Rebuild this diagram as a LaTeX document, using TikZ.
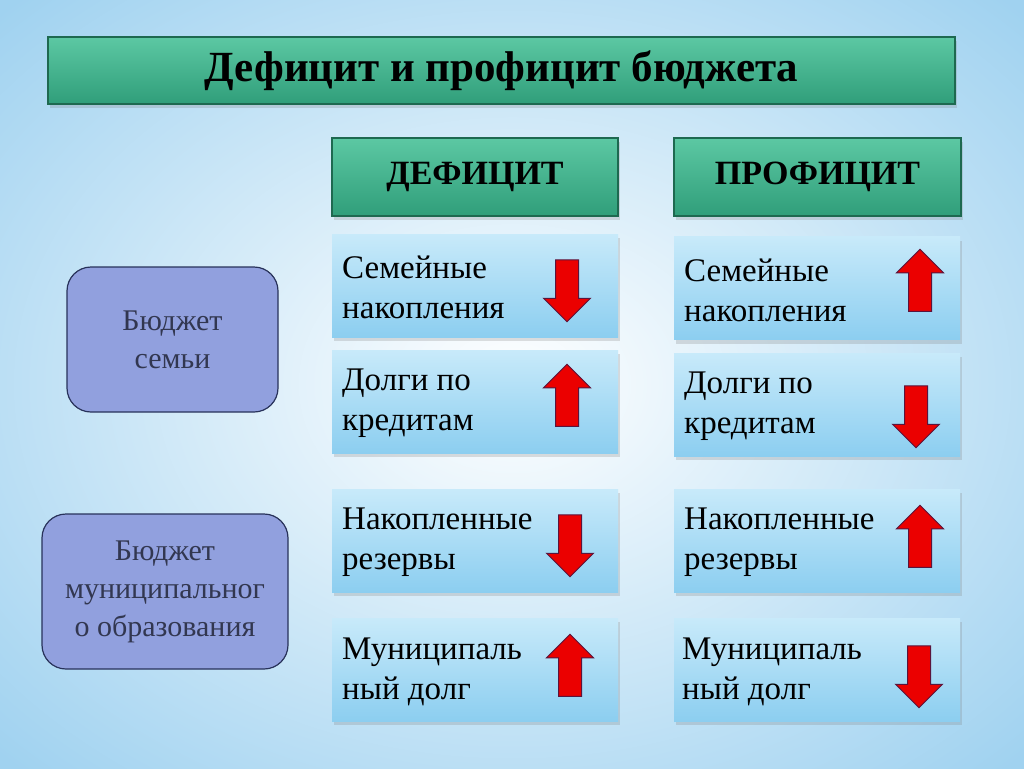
\documentclass[tikz,border=0pt]{standalone}
\usepackage{fontspec}
\setmainfont{Liberation Serif}
\usetikzlibrary{positioning,shapes.arrows,shadows}

\definecolor{bgedge}{RGB}{160,210,240}
\definecolor{greentop}{RGB}{92,200,163}
\definecolor{greenbot}{RGB}{48,158,122}
\definecolor{greenline}{RGB}{30,105,80}
\definecolor{celltop}{RGB}{200,234,250}
\definecolor{cellbot}{RGB}{140,206,240}
\definecolor{budgetfill}{RGB}{145,160,222}
\definecolor{budgetline}{RGB}{40,50,90}
\definecolor{budgettext}{RGB}{50,55,80}
\definecolor{arrowred}{RGB}{235,0,0}
\definecolor{arrowline}{RGB}{90,20,60}

\begin{document}
\begin{tikzpicture}[
  x=1pt,
  y=-1pt,
  headbar/.style={draw=greenline, line width=1.2pt, top color=greentop,
    bottom color=greenbot, inner sep=0pt,
    drop shadow={shadow xshift=2pt, shadow yshift=-4pt, opacity=0.25}},
  cellbox/.style={top color=celltop, bottom color=cellbot, inner sep=0pt,
    minimum width=286pt, minimum height=103pt,
    drop shadow={shadow xshift=2pt, shadow yshift=-4pt, opacity=0.25}},
  celltext/.style={anchor=west, align=left, inner sep=0pt,
    font=\fontsize{33}{40}\selectfont},
  budgetbox/.style={draw=budgetline, line width=1.2pt, fill=budgetfill,
    rounded corners=24pt, align=center, text=budgettext,
    font=\fontsize{30}{38}\selectfont},
  uparrow/.style={single arrow, draw=arrowline, line width=1pt, fill=arrowred,
    rotate=90, minimum height=62pt, minimum width=46pt,
    single arrow head extend=12pt, inner sep=11pt},
  downarrow/.style={uparrow, rotate=180}
]

  % Background
  \useasboundingbox (0,0) rectangle (1024,768);
  \shade[inner color=white, outer color=bgedge] (-200,-150) rectangle (1224,918);

  % Title and column heads
  \node[headbar, minimum width=907pt, minimum height=67pt,
    font=\fontsize{43}{48}\selectfont\bfseries] (title) at (501.5,70.5)
    {Дефицит и профицит бюджета};
  \node[headbar, minimum width=286pt, minimum height=78pt,
    font=\fontsize{34}{40}\selectfont\bfseries] (deficit) at (475,177)
    {ДЕФИЦИТ};
  \node[headbar, minimum width=287pt, minimum height=78pt,
    font=\fontsize{34}{40}\selectfont\bfseries] (surplus) at (817.5,177)
    {ПРОФИЦИТ};

  % Budget kinds
  \node[budgetbox, minimum width=211pt, minimum height=145pt] (family)
    at (172.5,339.5) {Бюджет\\семьи};
  \node[budgetbox, minimum width=246pt, minimum height=155pt] (municipal)
    at (165,591.5) {Бюджет\\муниципальног\\о образования};

  % Deficit column
  \node[cellbox] (dSave) at (475,285.5) {};
  \node[celltext] (dSaveText) at (342,287) {Семейные\\накопления};
  \node[downarrow] (dSaveArrow) at (567,285) {};

  \node[cellbox] (dDebt) at (475,401.5) {};
  \node[celltext] (dDebtText) at (342,403) {Долги по\\кредитам};
  \node[uparrow] (dDebtArrow) at (567,401) {};

  \node[cellbox] (dReserve) at (475,540.5) {};
  \node[celltext] (dReserveText) at (342,542) {Накопленные\\резервы};
  \node[downarrow] (dReserveArrow) at (570,540) {};

  \node[cellbox] (dMuniDebt) at (475,669.5) {};
  \node[celltext] (dMuniDebtText) at (342,672) {Муниципаль\\ный долг};
  \node[uparrow] (dMuniDebtArrow) at (570,671) {};

  % Surplus column
  \node[cellbox] (sSave) at (817,288) {};
  \node[celltext] (sSaveText) at (684,290) {Семейные\\накопления};
  \node[uparrow] (sSaveArrow) at (920,286) {};

  \node[cellbox] (sDebt) at (817,404.5) {};
  \node[celltext] (sDebtText) at (684,406) {Долги по\\кредитам};
  \node[downarrow] (sDebtArrow) at (916,411) {};

  \node[cellbox] (sReserve) at (817,540.5) {};
  \node[celltext] (sReserveText) at (684,542) {Накопленные\\резервы};
  \node[uparrow] (sReserveArrow) at (920,542) {};

  \node[cellbox] (sMuniDebt) at (817,669.5) {};
  \node[celltext] (sMuniDebtText) at (682,672) {Муниципаль\\ный долг};
  \node[downarrow] (sMuniDebtArrow) at (919,671) {};

\end{tikzpicture}
\end{document}
